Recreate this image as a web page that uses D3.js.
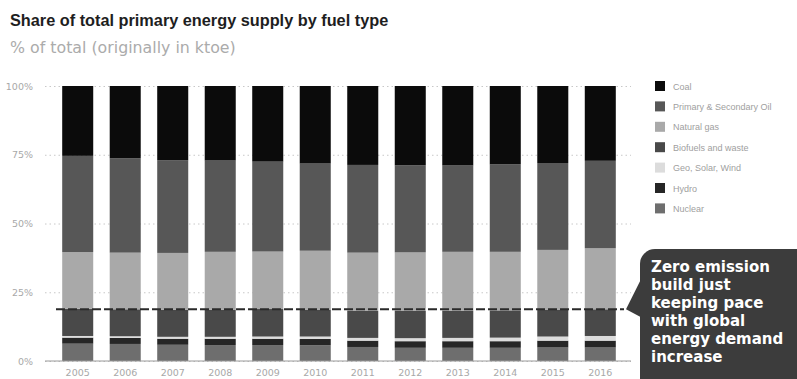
<!DOCTYPE html>
<html>
<head>
<meta charset="utf-8">
<script src="https://cdn.jsdelivr.net/npm/d3@7"></script>
<style>
  body { margin: 0; background: #fff; font-family: "Liberation Sans", Arial, sans-serif; }
  svg { display: block; }
</style>
</head>
<body>
<svg id="chart" width="797" height="379"></svg>
<script>
// data, % of total primary energy supply
let years = ["2005", "2006", "2007", "2008", "2009", "2010", "2011", "2012", "2013", "2014", "2015", "2016"];
let fuels = ["Coal", "Primary & Secondary Oil", "Natural gas", "Biofuels and waste", "Geo, Solar, Wind", "Hydro", "Nuclear"];

let coal     = [25.4, 26.3, 27.0, 27.1, 27.5, 28.2, 28.7, 28.8, 28.9, 28.5, 28.0, 27.2];
let oil      = [35.0, 34.3, 33.7, 33.2, 32.7, 31.7, 31.9, 31.7, 31.4, 31.8, 31.6, 31.8];
let gas      = [20.6, 20.6, 20.7, 21.1, 20.9, 21.4, 21.2, 21.3, 21.4, 21.3, 21.7, 22.2];
let biofuels = [9.9, 9.8, 9.8, 9.8, 10.0, 9.8, 9.8, 9.9, 9.9, 9.9, 9.8, 9.7];
let geoSolarWind = [0.6, 0.6, 0.7, 0.7, 0.8, 0.9, 1.0, 1.1, 1.2, 1.3, 1.5, 1.7];
let hydro    = [2.2, 2.2, 2.2, 2.3, 2.3, 2.3, 2.3, 2.4, 2.4, 2.4, 2.5, 2.5];
let nuclear  = [6.3, 6.2, 5.9, 5.8, 5.8, 5.7, 5.1, 4.8, 4.8, 4.8, 4.9, 4.9];

let yTicks = [0, 25, 50, 75, 100];
let zeroEmissionLevel = 18.8;
let calloutLines = ["Zero emission", "build just", "keeping pace", "with global", "energy demand", "increase"];

let colors = {
  "Coal": "#0b0b0b",
  "Primary & Secondary Oil": "#575757",
  "Natural gas": "#a9a9a9",
  "Biofuels and waste": "#494949",
  "Geo, Solar, Wind": "#dcdcdc",
  "Hydro": "#262626",
  "Nuclear": "#6e6e6e"
};

let series = {
  "Coal": coal,
  "Primary & Secondary Oil": oil,
  "Natural gas": gas,
  "Biofuels and waste": biofuels,
  "Geo, Solar, Wind": geoSolarWind,
  "Hydro": hydro,
  "Nuclear": nuclear
};

let table = years.map((y, i) => {
  let row = { year: y };
  fuels.forEach((f) => { row[f] = series[f][i]; });
  return row;
});

let svg = d3.select("#chart");
let dejavu = "DejaVu Sans, Verdana, sans-serif";

let x = d3.scaleBand().domain(years).range([47, 631]).paddingInner(0.347).paddingOuter(0.32);
let y = d3.scaleLinear().domain([0, 100]).range([361, 86]);

// title
svg.append("text")
  .attr("x", 10).attr("y", 26)
  .attr("font-size", 16.3).attr("font-weight", "bold").attr("fill", "#1e1e1e")
  .text("Share of total primary energy supply by fuel type");
svg.append("text")
  .attr("x", 10).attr("y", 53)
  .attr("font-size", 15.8).attr("font-family", dejavu).attr("fill", "#ababab")
  .text("% of total (originally in ktoe)");

// y axis with dotted grid
let yAxis = d3.axisLeft(y)
  .tickValues(yTicks)
  .tickFormat((d) => d + "%")
  .tickSize(-(631 - 45))
  .tickPadding(12);

let gy = svg.append("g").attr("transform", "translate(45,0)").call(yAxis);
gy.select(".domain").remove();
gy.selectAll(".tick line").attr("stroke", "#c8c8c8").attr("stroke-dasharray", "1.5,3");
gy.selectAll(".tick text").attr("fill", "#a8a8a8").attr("font-size", 9.5)
  .attr("font-family", dejavu);

// stacked bars, nuclear at the bottom
let stackOrder = fuels.slice().reverse();
let stacked = d3.stack().keys(stackOrder)(table);

svg.append("g").selectAll("g")
  .data(stacked)
  .enter()
  .append("g")
  .attr("fill", (d) => colors[d.key])
  .selectAll("rect")
  .data((d) => d)
  .enter()
  .append("rect")
  .attr("x", (d) => x(d.data.year))
  .attr("width", x.bandwidth())
  .attr("y", (d) => y(d[1]))
  .attr("height", (d) => y(d[0]) - y(d[1]));

// baseline
svg.append("line")
  .attr("x1", 45).attr("x2", 631)
  .attr("y1", y(0)).attr("y2", y(0))
  .attr("stroke", "#9a9a9a").attr("stroke-width", 1);

// x labels
let xAxis = d3.axisBottom(x).tickSize(0).tickPadding(8);
let gx = svg.append("g").attr("transform", "translate(0," + y(0) + ")").call(xAxis);
gx.select(".domain").remove();
gx.selectAll(".tick text").attr("fill", "#a8a8a8").attr("font-size", 9.5)
  .attr("font-family", dejavu);

// zero emission dashed line
svg.append("line")
  .attr("x1", 56).attr("x2", 624)
  .attr("y1", y(zeroEmissionLevel)).attr("y2", y(zeroEmissionLevel))
  .attr("stroke", "#2a2a2a").attr("stroke-width", 2)
  .attr("stroke-dasharray", "9,3");

// legend
let legend = svg.append("g").attr("transform", "translate(655,81)");
let items = legend.selectAll("g")
  .data(fuels)
  .enter()
  .append("g")
  .attr("transform", (d, i) => "translate(0," + i * 20.4 + ")");
items.append("rect")
  .attr("width", 10).attr("height", 10)
  .attr("fill", (d) => colors[d]);
items.append("text")
  .attr("x", 18).attr("y", 8.5)
  .attr("font-size", 9).attr("fill", "#a0a0a0")
  .text((d) => d);

// callout
let cy = y(zeroEmissionLevel);
let callout = svg.append("g");
callout.append("rect")
  .attr("x", 640).attr("y", 249)
  .attr("width", 180).attr("height", 160)
  .attr("rx", 15)
  .attr("fill", "#3c3c3c");
callout.append("path")
  .attr("d", "M641," + (cy - 30) + " L626," + cy + " L641," + (cy + 8) + " Z")
  .attr("fill", "#3c3c3c");
callout.selectAll("text")
  .data(calloutLines)
  .enter()
  .append("text")
  .attr("x", 651)
  .attr("y", (d, i) => 272 + i * 18)
  .attr("font-size", 15).attr("font-weight", "bold").attr("font-family", dejavu)
  .attr("fill", "#ffffff")
  .text((d) => d);
</script>
</body>
</html>
